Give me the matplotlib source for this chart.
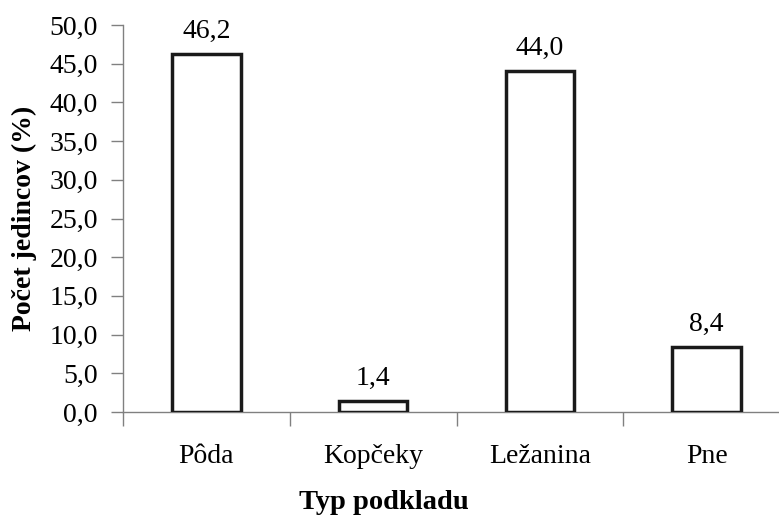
import numpy as np
import matplotlib.pyplot as plt
from matplotlib.ticker import FixedLocator, FuncFormatter

plt.rcParams['font.family'] = ['Liberation Serif', 'DejaVu Serif']

# Data
categories = ['Pôda', 'Kopčeky', 'Ležanina', 'Pne']
values = [46.2, 1.4, 44.0, 8.4]

fig = plt.figure(figsize=(7.79, 5.15), dpi=100)
# axes runs a bit past the right edge of the figure
ax = fig.add_axes([123 / 779, 1 - 412 / 515, 667 / 779, 387 / 515])

x = np.arange(len(categories))
ax.bar(x, values, width=0.41, color='white', edgecolor='#1a1a1a', linewidth=2.5, zorder=3)

for xi, v in zip(x, values):
    ax.text(xi, v + 1.3, f'{v:.1f}'.replace('.', ','), ha='center', va='bottom', fontsize=20)

ax.set_xlim(-0.5, len(categories) - 0.5)
ax.set_ylim(0, 50)
ax.set_yticks(np.arange(0, 50.1, 5))
ax.yaxis.set_major_formatter(FuncFormatter(lambda v, p: f'{v:.1f}'.replace('.', ',')))

# tick marks between categories, labels at the centres
ax.xaxis.set_major_locator(FixedLocator(np.arange(-0.5, len(categories), 1.0)))
ax.xaxis.set_major_formatter(FuncFormatter(lambda v, p: ''))
ax.xaxis.set_minor_locator(FixedLocator(x))
ax.set_xticklabels(categories, minor=True)
ax.tick_params(axis='x', which='major', length=10, width=1, color='#808080', direction='out')
ax.tick_params(axis='x', which='minor', length=0, pad=23, labelsize=20)
ax.tick_params(axis='y', length=9, width=1, color='#808080', direction='out', pad=9, labelsize=20)

for side in ['top', 'right']:
    ax.spines[side].set_visible(False)
for side in ['left', 'bottom']:
    ax.spines[side].set_color('#808080')
    ax.spines[side].set_linewidth(1)

fig.text(384 / 779, 1 - 509 / 515, 'Typ podkladu', ha='center', va='baseline',
         fontsize=20.5, fontweight='bold')
fig.text(24 / 779, 1 - 218 / 515, 'Počet jedincov (%)', ha='center', va='center',
         rotation=90, fontsize=20, fontweight='bold')

fig.savefig('out.png', dpi=100)
